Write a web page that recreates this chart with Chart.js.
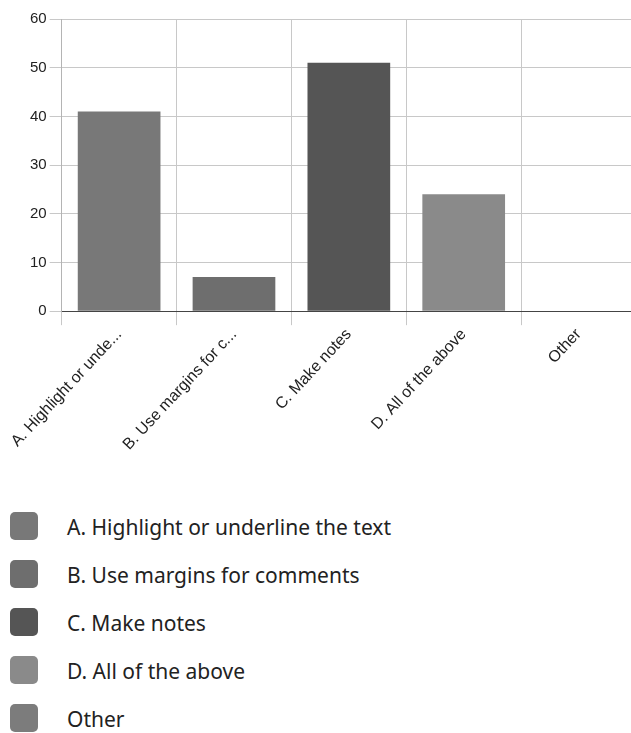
<!DOCTYPE html>
<html>
<head>
<meta charset="utf-8">
<script src="https://cdn.jsdelivr.net/npm/chart.js@4.4.1/dist/chart.umd.min.js"></script>
<style>
  html, body { margin: 0; padding: 0; background: #fff; overflow: hidden; width: 631px; height: 733px; }
  #wrap { position: absolute; left: 0; top: 0; width: 636px; height: 454px; }
  #legend { position: absolute; left: 10px; top: 512px; margin: 0; padding: 0; list-style: none;
            font-family: "Noto Sans", sans-serif; font-size: 21px; color: #222; }
  #legend li { height: 48px; display: flex; align-items: flex-start; }
  #legend .sw { width: 28px; height: 28px; border-radius: 5px; margin-right: 29px; flex: none; }
  #legend .tx { line-height: 30px; }
</style>
</head>
<body>
<div id="wrap"><canvas id="chart"></canvas></div>
<ul id="legend"></ul>
<script>
// Survey answers and response counts
const categories = [
  "A. Highlight or underline the text",
  "B. Use margins for comments",
  "C. Make notes",
  "D. All of the above",
  "Other"
];
const responses = [41, 7, 51, 24, 0];
const barColors = ["#787878", "#6e6e6e", "#555555", "#8a8a8a", "#7c7c7c"];
const yTicks = [0, 10, 20, 30, 40, 50, 60];

// Shorten long category names on the axis
function shorten(label) {
  return label.length > 20 ? label.slice(0, 20) + "..." : label;
}

const fontFamily = "Liberation Sans, Arial, sans-serif";

new Chart(document.getElementById("chart"), {
  type: "bar",
  data: {
    labels: categories,
    datasets: [{
      data: responses,
      backgroundColor: barColors,
      borderWidth: 0
    }]
  },
  options: {
    responsive: true,
    maintainAspectRatio: false,
    animation: false,
    layout: { padding: { top: 19, left: 27, right: 0, bottom: 0 } },
    plugins: { legend: { display: false }, tooltip: { enabled: false } },
    scales: {
      x: {
        grid: { color: "#c8c8c8", tickLength: 14 },
        border: { color: "#444", width: 1 },
        ticks: {
          color: "#222",
          font: { family: fontFamily, size: 16 },
          padding: 0,
          maxRotation: 47,
          minRotation: 47,
          autoSkip: false,
          callback: function (v) { return shorten(this.getLabelForValue(v)); }
        }
      },
      y: {
        min: yTicks[0],
        max: yTicks[yTicks.length - 1],
        afterBuildTicks: (axis) => { axis.ticks = yTicks.map(v => ({ value: v })); },
        grid: { color: "#c8c8c8", tickLength: 12 },
        border: { color: "#b4b4b4" },
        ticks: {
          color: "#222",
          padding: 3,
          font: { family: fontFamily, size: 15 }
        }
      }
    }
  }
});

// HTML legend built from the same category and colour lists
const legend = document.getElementById("legend");
categories.forEach((name, i) => {
  const li = document.createElement("li");
  const sw = document.createElement("span");
  sw.className = "sw";
  sw.style.background = barColors[i];
  const tx = document.createElement("span");
  tx.className = "tx";
  tx.textContent = name;
  li.appendChild(sw);
  li.appendChild(tx);
  legend.appendChild(li);
});
</script>
</body>
</html>
